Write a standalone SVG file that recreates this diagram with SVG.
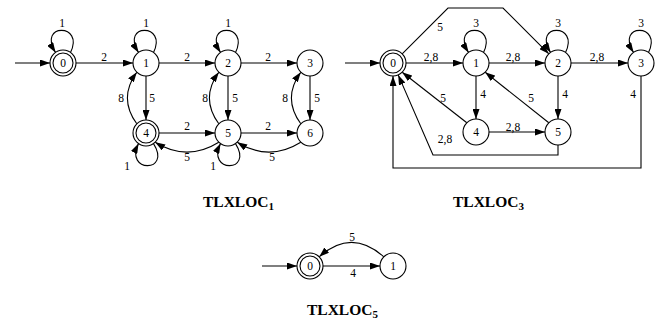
<svg xmlns="http://www.w3.org/2000/svg" width="661" height="324" viewBox="0 0 661 324">
<style>
.n{fill:#fff;stroke:#000;stroke-width:1.1}
.e{fill:none;stroke:#000;stroke-width:1.1;marker-end:url(#ah)}
.l{font-family:"Liberation Serif",serif;font-size:11.5px;text-anchor:middle;fill:#000}
.t{font-family:"Liberation Serif",serif;font-size:15.5px;font-weight:bold;fill:#000}
.s{font-size:11px}
</style>
<defs>
<marker id="ah" markerUnits="userSpaceOnUse" markerWidth="10" markerHeight="7" refX="10" refY="3.5" orient="auto">
<path d="M0,0 L10,3.5 L0,7 z" fill="#000"/>
</marker>
</defs>
<rect width="661" height="324" fill="#fff"/>

<g id="connectors">
<!-- TLXLOC1 -->
<path class="e" d="M15,63 L50,63"/>
<path class="e" d="M76,63 L133,63"/>
<path class="e" d="M159,63 L215,63"/>
<path class="e" d="M241,63 L297,63"/>
<path class="e" d="M146,76 L146,120"/>
<path class="e" d="M228,76 L228,120"/>
<path class="e" d="M310,76 L310,120"/>
<path class="e" d="M159,133 L215,133"/>
<path class="e" d="M241,133 L297,133"/>
<path class="e" d="M136.8,123.8 Q118,98 136.8,72.2"/>
<path class="e" d="M218.8,123.8 Q200,98 218.8,72.2"/>
<path class="e" d="M300.8,123.8 Q282,98 300.8,72.2"/>
<path class="e" d="M218.8,142.2 Q187,162 155.2,142.2"/>
<path class="e" d="M300.8,142.2 Q269,162 237.2,142.2"/>
<path class="e" d="M70.5,52.4 C85,23 37,23 55.5,52.4"/>
<path class="e" d="M153.5,52.4 C168,23 120,23 138.5,52.4"/>
<path class="e" d="M235.5,52.4 C250,23 202,23 220.5,52.4"/>
<path class="e" d="M153.5,143.6 C172,173 124,173 138.5,143.6"/>
<path class="e" d="M235.5,143.6 C254,173 206,173 220.5,143.6"/>
<!-- TLXLOC3 -->
<path class="e" d="M345,63 L380,63"/>
<path class="e" d="M406,63 L463,63"/>
<path class="e" d="M489,63 L545,63"/>
<path class="e" d="M571,63 L628,63"/>
<path class="e" d="M402.2,53.8 L448,8 L503,8 L548.8,53.8"/>
<path class="e" d="M483.5,52.4 C498,23 450,23 468.5,52.4"/>
<path class="e" d="M565.5,52.4 C580,23 532,23 550.5,52.4"/>
<path class="e" d="M648.5,52.4 C663,23 615,23 633.5,52.4"/>
<path class="e" d="M476,76 L476,119"/>
<path class="e" d="M558,76 L558,119"/>
<path class="e" d="M489,132 L545,132"/>
<path class="e" d="M466.8,122.8 L402.2,72.2"/>
<path class="e" d="M548.8,122.8 L485.2,72.2"/>
<path class="e" d="M558,145 L558,155 L433,155 L398.2,74.9"/>
<path class="e" d="M641,76 L641,168 L393,168 L393,76"/>
<!-- TLXLOC5 -->
<path class="e" d="M262,266 L297,266"/>
<path class="e" d="M323,266 L380,266"/>
<path class="e" d="M383.8,256.8 Q351.5,228 319.2,256.8"/>
</g>

<g id="edge-labels">
<text class="l" x="62" y="27">1</text>
<text class="l" x="146" y="27">1</text>
<text class="l" x="228" y="27">1</text>
<text class="l" x="104" y="61">2</text>
<text class="l" x="187" y="61">2</text>
<text class="l" x="268" y="61">2</text>
<text class="l" x="152" y="102">5</text>
<text class="l" x="121" y="102">8</text>
<text class="l" x="235" y="102">5</text>
<text class="l" x="205" y="102">8</text>
<text class="l" x="317" y="102">5</text>
<text class="l" x="285" y="102">8</text>
<text class="l" x="187" y="130">2</text>
<text class="l" x="268" y="130">2</text>
<text class="l" x="187" y="161">5</text>
<text class="l" x="272" y="161">5</text>
<text class="l" x="127" y="170">1</text>
<text class="l" x="213" y="170">1</text>

<text class="l" x="440" y="31">5</text>
<text class="l" x="476" y="27">3</text>
<text class="l" x="558" y="27">3</text>
<text class="l" x="641" y="27">3</text>
<text class="l" x="431" y="61">2,8</text>
<text class="l" x="513" y="61">2,8</text>
<text class="l" x="597" y="61">2,8</text>
<text class="l" x="483" y="98">4</text>
<text class="l" x="565" y="98">4</text>
<text class="l" x="633" y="98">4</text>
<text class="l" x="443" y="102">5</text>
<text class="l" x="531" y="102">5</text>
<text class="l" x="513" y="131">2,8</text>
<text class="l" x="445" y="143">2,8</text>

<text class="l" x="352" y="241">5</text>
<text class="l" x="353" y="277">4</text>
</g>

<g id="L1-0"><circle class="n" cx="63" cy="63" r="13"/><circle class="n" cx="63" cy="63" r="10"/><text class="l" x="63" y="67">0</text></g>
<g id="L1-1"><circle class="n" cx="146" cy="63" r="13"/><text class="l" x="146" y="67">1</text></g>
<g id="L1-2"><circle class="n" cx="228" cy="63" r="13"/><text class="l" x="228" y="67">2</text></g>
<g id="L1-3"><circle class="n" cx="310" cy="63" r="13"/><text class="l" x="310" y="67">3</text></g>
<g id="L1-4"><circle class="n" cx="146" cy="133" r="13"/><circle class="n" cx="146" cy="133" r="10"/><text class="l" x="146" y="137">4</text></g>
<g id="L1-5"><circle class="n" cx="228" cy="133" r="13"/><text class="l" x="228" y="137">5</text></g>
<g id="L1-6"><circle class="n" cx="310" cy="133" r="13"/><text class="l" x="310" y="137">6</text></g>

<g id="L3-0"><circle class="n" cx="393" cy="63" r="13"/><circle class="n" cx="393" cy="63" r="10"/><text class="l" x="393" y="67">0</text></g>
<g id="L3-1"><circle class="n" cx="476" cy="63" r="13"/><text class="l" x="476" y="67">1</text></g>
<g id="L3-2"><circle class="n" cx="558" cy="63" r="13"/><text class="l" x="558" y="67">2</text></g>
<g id="L3-3"><circle class="n" cx="641" cy="63" r="13"/><text class="l" x="641" y="67">3</text></g>
<g id="L3-4"><circle class="n" cx="476" cy="132" r="13"/><text class="l" x="476" y="136">4</text></g>
<g id="L3-5"><circle class="n" cx="558" cy="132" r="13"/><text class="l" x="558" y="136">5</text></g>

<g id="L5-0"><circle class="n" cx="310" cy="266" r="13"/><circle class="n" cx="310" cy="266" r="10"/><text class="l" x="310" y="270">0</text></g>
<g id="L5-1"><circle class="n" cx="393" cy="266" r="13"/><text class="l" x="393" y="270">1</text></g>

<g id="titles">
<text class="t" x="203" y="207">TLXLOC<tspan class="s" dy="3">1</tspan></text>
<text class="t" x="453" y="207">TLXLOC<tspan class="s" dy="3">3</tspan></text>
<text class="t" x="307" y="315">TLXLOC<tspan class="s" dy="3">5</tspan></text>
</g>
</svg>
